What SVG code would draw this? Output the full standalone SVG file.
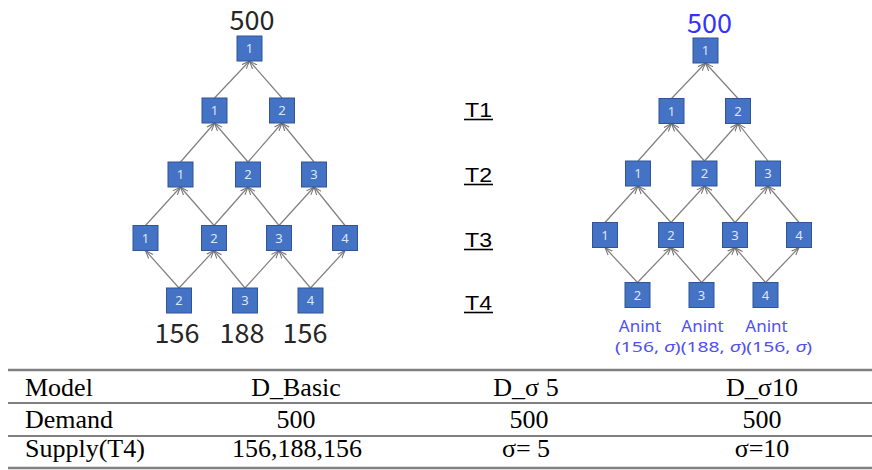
<svg xmlns="http://www.w3.org/2000/svg" width="872" height="470" viewBox="0 0 872 470">
  <style>
    .node rect { fill: #4472c4; stroke: #2f5597; stroke-width: 1; }
    .node text { fill: #dfe6f4; font-family: "Noto Sans", "DejaVu Sans", sans-serif; font-size: 13px; text-anchor: middle; }
    .edge { stroke: #7f7f7f; stroke-width: 1.2; fill: none; marker-end: url(#arrow); }
    .big { font-family: "Noto Sans CJK JP", "Noto Sans", sans-serif; font-size: 27px; text-anchor: middle; fill: #262626; }
    .lvl { font-family: "Liberation Sans", Arial, sans-serif; font-size: 20px; fill: #000; }
    .uline { stroke: #000; stroke-width: 1.6; }
    .anint { font-family: "Noto Sans", "DejaVu Sans", sans-serif; fill: #5050f5; text-anchor: middle; }
    .tbl { font-family: "Liberation Serif", "Times New Roman", serif; font-size: 26px; fill: #000; }
    .tc { text-anchor: middle; }
    .rule { stroke: #808080; }
  </style>
  <defs>
    <marker id="arrow" viewBox="0 0 8 8" refX="8" refY="4" markerWidth="8" markerHeight="8" markerUnits="userSpaceOnUse" orient="auto">
      <path d="M0,1 L8,4 L0,7" fill="none" stroke="#6f6f6f" stroke-width="1"/>
    </marker>
  </defs>

  <!-- connectors: child top edge to parent bottom edge -->
  <g id="connectors">
    <!-- left tree -->
    <line class="edge" x1="214.5" y1="98" x2="249.5" y2="61"/>
    <line class="edge" x1="282" y1="98" x2="249.5" y2="61"/>
    <line class="edge" x1="180.5" y1="162" x2="214.5" y2="123"/>
    <line class="edge" x1="248" y1="162" x2="214.5" y2="123"/>
    <line class="edge" x1="248" y1="162" x2="282" y2="123"/>
    <line class="edge" x1="314" y1="162" x2="282" y2="123"/>
    <line class="edge" x1="145.5" y1="225.5" x2="180.5" y2="187"/>
    <line class="edge" x1="214" y1="225.5" x2="180.5" y2="187"/>
    <line class="edge" x1="214" y1="225.5" x2="248" y2="187"/>
    <line class="edge" x1="279" y1="225.5" x2="248" y2="187"/>
    <line class="edge" x1="279" y1="225.5" x2="314" y2="187"/>
    <line class="edge" x1="345" y1="225.5" x2="314" y2="187"/>
    <line class="edge" x1="179" y1="288" x2="145.5" y2="250.5"/>
    <line class="edge" x1="179" y1="288" x2="214" y2="250.5"/>
    <line class="edge" x1="245" y1="288" x2="214" y2="250.5"/>
    <line class="edge" x1="245" y1="288" x2="279" y2="250.5"/>
    <line class="edge" x1="310.5" y1="288" x2="279" y2="250.5"/>
    <line class="edge" x1="310.5" y1="288" x2="345" y2="250.5"/>
    <!-- right tree -->
    <line class="edge" x1="671.5" y1="98.5" x2="705.5" y2="63"/>
    <line class="edge" x1="738" y1="98.5" x2="705.5" y2="63"/>
    <line class="edge" x1="638" y1="161" x2="671.5" y2="123.5"/>
    <line class="edge" x1="704.5" y1="161" x2="671.5" y2="123.5"/>
    <line class="edge" x1="704.5" y1="161" x2="738" y2="123.5"/>
    <line class="edge" x1="768" y1="161" x2="738" y2="123.5"/>
    <line class="edge" x1="605" y1="222.5" x2="638" y2="186"/>
    <line class="edge" x1="671" y1="222.5" x2="638" y2="186"/>
    <line class="edge" x1="671" y1="222.5" x2="704.5" y2="186"/>
    <line class="edge" x1="735" y1="222.5" x2="704.5" y2="186"/>
    <line class="edge" x1="735" y1="222.5" x2="768" y2="186"/>
    <line class="edge" x1="799" y1="222.5" x2="768" y2="186"/>
    <line class="edge" x1="637.5" y1="282.5" x2="605" y2="247.5"/>
    <line class="edge" x1="637.5" y1="282.5" x2="671" y2="247.5"/>
    <line class="edge" x1="701.5" y1="282.5" x2="671" y2="247.5"/>
    <line class="edge" x1="701.5" y1="282.5" x2="735" y2="247.5"/>
    <line class="edge" x1="765.5" y1="282.5" x2="735" y2="247.5"/>
    <line class="edge" x1="765.5" y1="282.5" x2="799" y2="247.5"/>
  </g>

  <!-- left tree nodes -->
  <g id="L0" class="node"><rect x="237" y="36" width="25" height="25"/><text x="249.5" y="53">1</text></g>
  <g id="L1-1" class="node"><rect x="202" y="98" width="25" height="25"/><text x="214.5" y="115">1</text></g>
  <g id="L1-2" class="node"><rect x="269.5" y="98" width="25" height="25"/><text x="282" y="115">2</text></g>
  <g id="L2-1" class="node"><rect x="168" y="162" width="25" height="25"/><text x="180.5" y="179">1</text></g>
  <g id="L2-2" class="node"><rect x="235.5" y="162" width="25" height="25"/><text x="248" y="179">2</text></g>
  <g id="L2-3" class="node"><rect x="301.5" y="162" width="25" height="25"/><text x="314" y="179">3</text></g>
  <g id="L3-1" class="node"><rect x="133" y="225.5" width="25" height="25"/><text x="145.5" y="242.5">1</text></g>
  <g id="L3-2" class="node"><rect x="201.5" y="225.5" width="25" height="25"/><text x="214" y="242.5">2</text></g>
  <g id="L3-3" class="node"><rect x="266.5" y="225.5" width="25" height="25"/><text x="279" y="242.5">3</text></g>
  <g id="L3-4" class="node"><rect x="332.5" y="225.5" width="25" height="25"/><text x="345" y="242.5">4</text></g>
  <g id="L4-2" class="node"><rect x="166.5" y="288" width="25" height="25"/><text x="179" y="305">2</text></g>
  <g id="L4-3" class="node"><rect x="232.5" y="288" width="25" height="25"/><text x="245" y="305">3</text></g>
  <g id="L4-4" class="node"><rect x="298" y="288" width="25" height="25"/><text x="310.5" y="305">4</text></g>

  <!-- right tree nodes -->
  <g id="R0" class="node"><rect x="693" y="38" width="25" height="25"/><text x="705.5" y="55">1</text></g>
  <g id="R1-1" class="node"><rect x="659" y="98.5" width="25" height="25"/><text x="671.5" y="115.5">1</text></g>
  <g id="R1-2" class="node"><rect x="725.5" y="98.5" width="25" height="25"/><text x="738" y="115.5">2</text></g>
  <g id="R2-1" class="node"><rect x="625.5" y="161" width="25" height="25"/><text x="638" y="178">1</text></g>
  <g id="R2-2" class="node"><rect x="692" y="161" width="25" height="25"/><text x="704.5" y="178">2</text></g>
  <g id="R2-3" class="node"><rect x="755.5" y="161" width="25" height="25"/><text x="768" y="178">3</text></g>
  <g id="R3-1" class="node"><rect x="592.5" y="222.5" width="25" height="25"/><text x="605" y="239.5">1</text></g>
  <g id="R3-2" class="node"><rect x="658.5" y="222.5" width="25" height="25"/><text x="671" y="239.5">2</text></g>
  <g id="R3-3" class="node"><rect x="722.5" y="222.5" width="25" height="25"/><text x="735" y="239.5">3</text></g>
  <g id="R3-4" class="node"><rect x="786.5" y="222.5" width="25" height="25"/><text x="799" y="239.5">4</text></g>
  <g id="R4-2" class="node"><rect x="625" y="282.5" width="25" height="25"/><text x="637.5" y="299.5">2</text></g>
  <g id="R4-3" class="node"><rect x="689" y="282.5" width="25" height="25"/><text x="701.5" y="299.5">3</text></g>
  <g id="R4-4" class="node"><rect x="753" y="282.5" width="25" height="25"/><text x="765.5" y="299.5">4</text></g>

  <!-- demand / supply values -->
  <g id="left-values">
    <text class="big" x="252" y="30">500</text>
    <text class="big" x="177" y="343">156</text>
    <text class="big" x="242" y="343">188</text>
    <text class="big" x="305" y="343">156</text>
  </g>
  <g id="right-values">
    <text class="big" x="709.5" y="33" style="fill:#3333ff">500</text>
    <text class="anint" x="640" y="332" font-size="17">Anint</text>
    <text class="anint" x="702.5" y="332" font-size="17">Anint</text>
    <text class="anint" x="766.5" y="332" font-size="17">Anint</text>
    <text class="anint" x="713.5" y="352" font-size="15" textLength="197" lengthAdjust="spacingAndGlyphs">(156, <tspan font-style="italic">σ</tspan>)(188, <tspan font-style="italic">σ</tspan>)(156, <tspan font-style="italic">σ</tspan>)</text>
  </g>

  <!-- level labels -->
  <g id="levels">
    <text class="lvl" x="465" y="117" textLength="27" lengthAdjust="spacingAndGlyphs">T1</text>
    <line class="uline" x1="464" y1="119.5" x2="493" y2="119.5"/>
    <text class="lvl" x="465" y="182" textLength="27" lengthAdjust="spacingAndGlyphs">T2</text>
    <line class="uline" x1="464" y1="184.5" x2="493" y2="184.5"/>
    <text class="lvl" x="465" y="247" textLength="27" lengthAdjust="spacingAndGlyphs">T3</text>
    <line class="uline" x1="464" y1="249.5" x2="493" y2="249.5"/>
    <text class="lvl" x="465" y="310" textLength="27" lengthAdjust="spacingAndGlyphs">T4</text>
    <line class="uline" x1="464" y1="312.5" x2="493" y2="312.5"/>
  </g>

  <!-- summary table -->
  <g id="table">
    <line class="rule" x1="8" y1="370" x2="872" y2="370" stroke-width="2.5"/>
    <line class="rule" x1="8" y1="403" x2="872" y2="403" stroke-width="2"/>
    <line class="rule" x1="8" y1="436" x2="872" y2="436" stroke-width="2"/>
    <line class="rule" x1="8" y1="468" x2="872" y2="468" stroke-width="2.5"/>
    <text class="tbl" x="25" y="396">Model</text>
    <text class="tbl tc" x="296" y="396">D_Basic</text>
    <text class="tbl tc" x="526" y="396">D_σ 5</text>
    <text class="tbl tc" x="762" y="396">D_σ10</text>
    <text class="tbl" x="25" y="428">Demand</text>
    <text class="tbl tc" x="296" y="428">500</text>
    <text class="tbl tc" x="529" y="428">500</text>
    <text class="tbl tc" x="762" y="428">500</text>
    <text class="tbl" x="25" y="457">Supply(T4)</text>
    <text class="tbl tc" x="297" y="457">156,188,156</text>
    <text class="tbl tc" x="526" y="457">σ= 5</text>
    <text class="tbl tc" x="762" y="457">σ=10</text>
  </g>
</svg>
